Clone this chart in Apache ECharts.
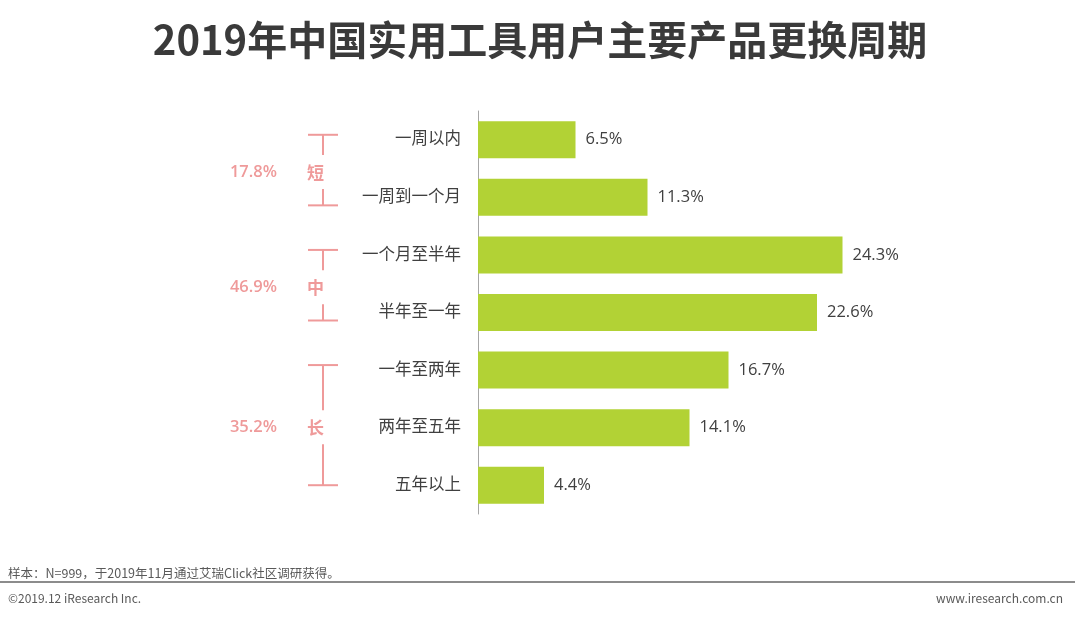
<!DOCTYPE html>
<html>
<head>
<meta charset="utf-8">
<script src="https://cdn.jsdelivr.net/npm/echarts@6/dist/echarts.min.js"></script>
<style>
    html, body { margin: 0; padding: 0; background: #fff; }
    #main { width: 1080px; height: 618px; }
</style>
</head>
<body>
<div id="main"></div>
<script>
// 数据
var categories = ['一周以内', '一周到一个月', '一个月至半年', '半年至一年', '一年至两年', '两年至五年', '五年以上'];
var values = [6.5, 11.3, 24.3, 22.6, 16.7, 14.1, 4.4];
// 分组：短 / 中 / 长
var groupNames = ['短', '中', '长'];
var groupShares = ['17.8%', '46.9%', '35.2%'];
var groupFrom = [0, 2, 4];
var groupTo = [1, 3, 6];

var pink = '#ef9a9a';
var textColor = '#404040';
var cjk = '"Open Sans", "Noto Sans CJK SC", sans-serif';

var myChart = echarts.init(document.getElementById('main'));

var option = {
    backgroundColor: '#fff',
    animation: false,
    title: {
        text: '2019年中国实用工具用户主要产品更换周期',
        left: 'center',
        top: 15,
        textStyle: {
            fontSize: 40,
            fontWeight: 'bold',
            color: '#3a3a3a',
            fontFamily: '"Noto Sans CJK SC", sans-serif'
        }
    },
    grid: {
        left: 478,
        top: 111,
        width: 450,
        height: 403
    },
    xAxis: {
        type: 'value',
        min: 0,
        max: 30,
        show: false
    },
    yAxis: {
        type: 'category',
        inverse: true,
        data: categories,
        axisLine: { lineStyle: { color: '#a6a6a6', width: 1 } },
        axisTick: { show: false },
        axisLabel: {
            margin: 17,
            color: textColor,
            fontSize: 16.5,
            fontFamily: cjk
        }
    },
    series: [{
        type: 'bar',
        data: values,
        barWidth: 37,
        itemStyle: { color: '#b2d235' },
        label: {
            show: true,
            position: 'right',
            distance: 10,
            color: textColor,
            fontSize: 16.5,
            fontFamily: cjk,
            formatter: function (p) { return p.value.toFixed(1) + '%'; }
        }
    }]
};
myChart.setOption(option);

// 括号注释，位置由类目轴换算
var graphics = [];
var bx = 323, capHalf = 15;
for (var i = 0; i < groupNames.length; i++) {
    var yTop = myChart.convertToPixel({ yAxisIndex: 0 }, categories[groupFrom[i]]) - 5;
    var yBot = myChart.convertToPixel({ yAxisIndex: 0 }, categories[groupTo[i]]) + 8;
    if (i === 2) yBot -= 8;
    var mid = (yTop + yBot) / 2 + 2;
    var lineStyle = { stroke: pink, lineWidth: 2 };
    graphics.push(
        { type: 'line', shape: { x1: bx - capHalf, y1: yTop, x2: bx + capHalf, y2: yTop }, style: lineStyle },
        { type: 'line', shape: { x1: bx, y1: yTop, x2: bx, y2: mid - 17 }, style: lineStyle },
        { type: 'line', shape: { x1: bx, y1: mid + 17, x2: bx, y2: yBot }, style: lineStyle },
        { type: 'line', shape: { x1: bx - capHalf, y1: yBot, x2: bx + capHalf, y2: yBot }, style: lineStyle },
        { type: 'text', x: 307, y: mid, style: { text: groupNames[i], fill: pink, font: 'bold 17px "Noto Sans CJK SC"', textVerticalAlign: 'middle', textAlign: 'left' } },
        { type: 'text', x: 277, y: mid, style: { text: groupShares[i], fill: pink, font: '600 16.5px "Open Sans"', textVerticalAlign: 'middle', textAlign: 'right' } }
    );
}

// 底部说明
var narrow = '"Liberation Sans Narrow", "Noto Sans CJK SC", sans-serif';
graphics.push(
    { type: 'text', x: 8, y: 573, style: { text: '样本：N=999，于2019年11月通过艾瑞Click社区调研获得。', fill: '#595959', font: '12.5px ' + narrow, textVerticalAlign: 'middle' } },
    { type: 'line', shape: { x1: 0, y1: 582, x2: 1075, y2: 582 }, style: { stroke: '#8c8c8c', lineWidth: 2 } },
    { type: 'text', x: 8, y: 598, style: { text: '©2019.12 iResearch Inc.', fill: '#595959', font: '12px ' + narrow, textVerticalAlign: 'middle' } },
    { type: 'text', x: 1063, y: 598, style: { text: 'www.iresearch.com.cn', fill: '#595959', font: '12px ' + narrow, textVerticalAlign: 'middle', textAlign: 'right' } }
);

myChart.setOption({ graphic: graphics });
</script>
</body>
</html>
